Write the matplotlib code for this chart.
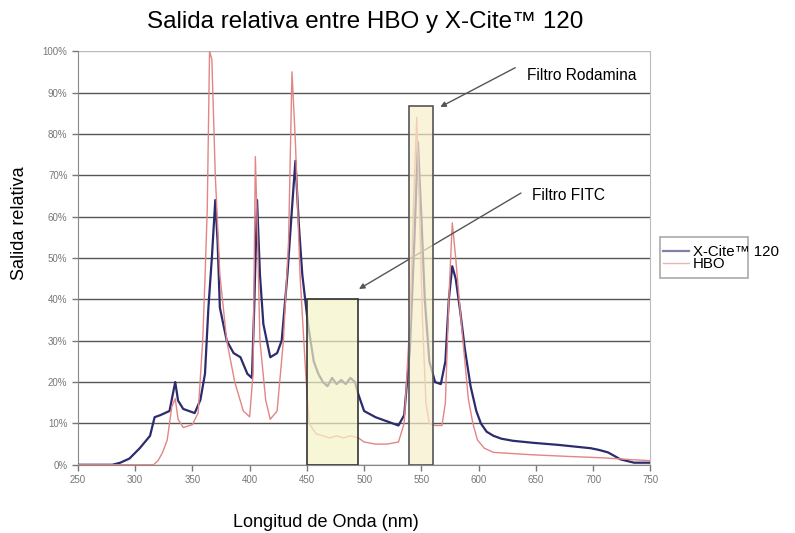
import numpy as np
import matplotlib.pyplot as plt
from matplotlib.patches import Rectangle

plt.rcParams['font.family'] = ['Liberation Sans', 'DejaVu Sans']

# X-Cite 120 spectrum (nm, % relative output)
xcite_nm = [250, 280, 287, 295, 304, 313, 317, 322, 330, 335,
            337.5, 342, 352, 357, 361, 364, 367, 370, 372, 374,
            380, 386, 392, 398, 402, 404, 406.5, 409, 412, 418,
            424, 428, 433, 437, 440, 443, 446, 451, 456, 460,
            464, 468, 472, 476, 480, 484, 488, 492, 495, 500,
            510, 520, 530, 535, 540, 544, 547, 550, 553, 557,
            562, 567, 571, 574, 577, 580, 584, 588, 593, 598,
            602, 607, 613, 620, 630, 648, 670, 698, 705, 713,
            724, 736, 750]
xcite_val = [0, 0, 0.5, 1.5, 4, 7, 11.5, 12, 13, 20,
             15.5, 13.5, 12.5, 15.7, 22, 38, 50, 64, 54, 38,
             30, 27, 26, 22, 21, 38, 64, 46, 34, 26,
             27, 30, 46, 62, 73.5, 58, 46, 34, 25, 22,
             20, 19, 21, 19.5, 20.5, 19.5, 21, 20, 17, 13,
             11.5, 10.5, 9.5, 12, 28, 55, 78, 60, 40, 25,
             20, 19.5, 25, 40, 48, 45, 37, 28, 19, 13,
             10, 8, 7, 6.3, 5.8, 5.3, 4.8, 4, 3.6, 3,
             1.3, 0.5, 0.5]

# HBO spectrum
hbo_nm = [250, 316, 320, 324, 328, 332, 335, 337.5, 342, 350,
          355, 359, 361, 363, 365, 367, 370, 374, 380, 387,
          394.5, 400, 403, 405, 407, 409, 414, 418, 424, 429.5,
          434, 437, 440, 444, 449, 452, 458, 464, 470, 476,
          482, 488, 495, 500, 510, 520, 530, 535, 540, 544,
          546, 548, 551, 554, 557, 562, 568, 571, 574, 577,
          580, 584, 588, 591, 595, 599, 605, 613, 630, 648,
          680, 707, 736, 750]
hbo_val = [0, 0, 1, 3, 6, 14, 16, 11, 9, 9.7,
           12.5, 30, 45, 62, 100, 98, 70, 46, 30, 20,
           13, 11.6, 22, 74.5, 54, 30, 15.7, 11, 13, 30,
           54, 95, 78, 46, 22, 10, 7.5, 7, 6.5, 7,
           6.5, 7, 6.5, 5.5, 5, 5, 5.5, 10, 35, 70,
           84, 65, 35, 15, 10, 9.5, 9.5, 15, 40, 58.5,
           50, 37, 25, 16, 10, 6, 4, 3, 2.7, 2.4,
           2, 1.7, 1.2, 1]

# filter bands: (start nm, end nm, height %)
fitc = (450, 495, 40)
rodamina = (539.5, 560.5, 86.7)

x_ticks = list(range(250, 751, 50))
y_ticks = list(range(0, 101, 10))

fig = plt.figure(figsize=(7.95, 5.33), dpi=100)
ax = fig.add_axes([0.098, 0.128, 0.72, 0.776])

for y in y_ticks[:-1]:
    ax.axhline(y, color='#555555', lw=1, zorder=1)
ax.axhline(100, color='#bbbbbb', lw=1, zorder=1)

ax.plot(xcite_nm, xcite_val, color='#2b2b6e', lw=1.6, label='X-Cite™ 120', zorder=3)
ax.plot(hbo_nm, hbo_val, color='#e38585', lw=1, label='HBO', zorder=3)

ax.add_patch(Rectangle((fitc[0], 0), fitc[1] - fitc[0], fitc[2],
                       facecolor='#f4f4c8', alpha=0.7, edgecolor='none', zorder=4))
ax.add_patch(Rectangle((fitc[0], 0), fitc[1] - fitc[0], fitc[2],
                       facecolor='none', edgecolor='#333333', lw=1.2, zorder=5))
ax.add_patch(Rectangle((rodamina[0], 0), rodamina[1] - rodamina[0], rodamina[2],
                       facecolor='#f7eecb', alpha=0.7, edgecolor='none', zorder=4))
ax.add_patch(Rectangle((rodamina[0], 0), rodamina[1] - rodamina[0], rodamina[2],
                       facecolor='none', edgecolor='#555555', lw=1.2, zorder=5))

arrow = dict(arrowstyle='-|>', color='#555555', lw=1, shrinkA=0, shrinkB=0,
             mutation_scale=8)
ax.text(642, 94.2, 'Filtro Rodamina', fontsize=11.2, va='center', ha='left')
ax.annotate('', xy=(566.5, 86.5), xytext=(632, 96), arrowprops=arrow)
ax.text(647, 65, 'Filtro FITC', fontsize=11.2, va='center', ha='left')
ax.annotate('', xy=(495.5, 42.5), xytext=(637, 65.7), arrowprops=arrow)

ax.set_xlim(250, 750)
ax.set_ylim(0, 100)
ax.set_xticks(x_ticks)
ax.set_yticks(y_ticks)
ax.set_yticklabels([f'{v}%' for v in y_ticks])
ax.tick_params(axis='both', labelsize=7, colors='#777777', length=4, width=1)
for s in ['left', 'bottom']:
    ax.spines[s].set_color('#888888')
ax.spines['top'].set_visible(False)
ax.spines['right'].set_color('#bbbbbb')

fig.text(0.41, 0.02, 'Longitud de Onda (nm)', ha='center', va='center', fontsize=13)
fig.text(0.025, 0.582, 'Salida relativa', ha='center', va='center',
         rotation=90, fontsize=13)
fig.text(0.459, 0.958, 'Salida relativa entre HBO y X-Cite™ 120',
         ha='center', va='center', fontsize=17.4)

# legend: the frame in the original is narrower than its text
ax.add_patch(Rectangle((660 / 795, 1 - 278 / 533), 88 / 795, 41 / 533,
                       transform=fig.transFigure, facecolor='white',
                       edgecolor='#aaaaaa', lw=1.2, zorder=6, clip_on=False))
leg = ax.legend(loc='upper left', bbox_to_anchor=(663 / 795, 1 - 245 / 533),
                bbox_transform=fig.transFigure, fontsize=10.8, frameon=False,
                handlelength=1.7, handletextpad=0.3, borderpad=0,
                labelspacing=-0.1, borderaxespad=0)
leg.set_zorder(7)
for h in leg.get_lines():
    h.set_alpha(0.6)

fig.savefig('out.png', dpi=100)
